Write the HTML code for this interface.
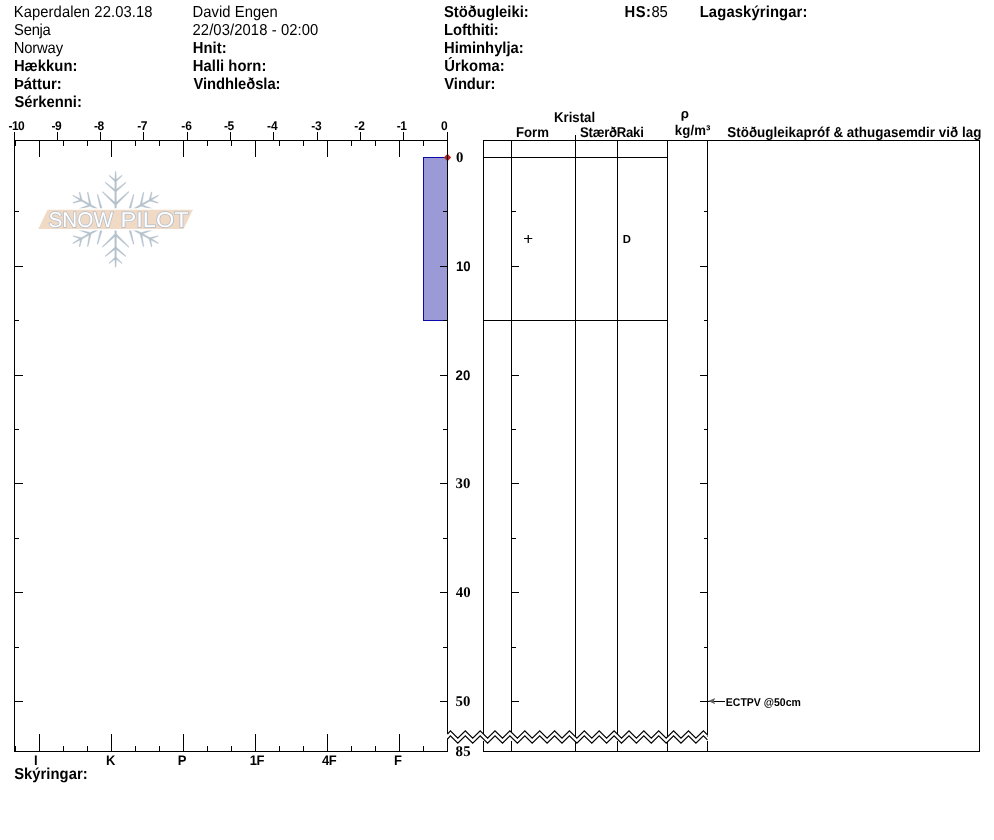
<!DOCTYPE html>
<html lang="is">
<head>
<meta charset="utf-8">
<title>Kaperdalen 22.03.18 - SnowPilot</title>
<style>
html,body{margin:0;padding:0;background:#fff;}
body{width:994px;height:840px;overflow:hidden;font-family:"Liberation Sans",sans-serif;}
svg{display:block;position:absolute;left:0;top:0;will-change:transform;}
text{font-family:"Liberation Sans",sans-serif;fill:#000;white-space:pre;text-rendering:geometricPrecision;}
.b{font-weight:bold;}
.s{font-family:"Liberation Serif",serif;}
.ln{stroke:#000;stroke-width:1;fill:none;shape-rendering:crispEdges;}
</style>
</head>
<body>
<svg width="994" height="840" viewBox="0 0 994 840">
<rect x="0" y="0" width="994" height="840" fill="#ffffff"/>

<g id="header">
<text transform="translate(13.70 17) scale(1 1.07)" style="font-size:14.8px;letter-spacing:0.078px;">Kaperdalen 22.03.18</text>
<text transform="translate(14.10 35) scale(1 1.07)" style="font-size:14.8px;letter-spacing:-0.275px;">Senja</text>
<text transform="translate(13.70 53) scale(1 1.07)" style="font-size:14.8px;letter-spacing:-0.160px;">Norway</text>
<text transform="translate(13.90 71) scale(1 1.07)" class="b" style="font-size:14.8px;letter-spacing:0.033px;">Hækkun:</text>
<text transform="translate(13.95 89) scale(1 1.07)" class="b" style="font-size:14.8px;">Þáttur:</text>
<text transform="translate(14.45 107) scale(1 1.07)" class="b" style="font-size:14.8px;">Sérkenni:</text>
<text transform="translate(192.50 17) scale(1 1.07)" style="font-size:14.8px;letter-spacing:0.050px;">David Engen</text>
<text transform="translate(192.50 35) scale(1 1.07)" style="font-size:14.8px;letter-spacing:0.094px;">22/03/2018 - 02:00</text>
<text transform="translate(192.70 53) scale(1 1.07)" class="b" style="font-size:14.8px;letter-spacing:0.100px;">Hnit:</text>
<text transform="translate(192.70 71) scale(1 1.07)" class="b" style="font-size:14.8px;letter-spacing:0.050px;">Halli horn:</text>
<text transform="translate(193.50 89) scale(1 1.07)" class="b" style="font-size:14.8px;letter-spacing:-0.064px;">Vindhleðsla:</text>
<text transform="translate(444.00 17) scale(1 1.07)" class="b" style="font-size:14.8px;">Stöðugleiki:</text>
<text transform="translate(444.00 35) scale(1 1.07)" class="b" style="font-size:14.8px;letter-spacing:-0.050px;">Lofthiti:</text>
<text transform="translate(444.00 53) scale(1 1.07)" class="b" style="font-size:14.8px;">Himinhylja:</text>
<text transform="translate(444.20 71) scale(1 1.07)" class="b" style="font-size:14.8px;letter-spacing:0.067px;">Úrkoma:</text>
<text transform="translate(444.30 89) scale(1 1.07)" class="b" style="font-size:14.8px;letter-spacing:-0.067px;">Vindur:</text>
<text transform="translate(624.50 17) scale(1 1.07)" class="b" style="font-size:14.8px;letter-spacing:0.450px;">HS:</text>
<text transform="translate(651.40 17) scale(1 1.07)" style="font-size:14.8px;letter-spacing:-0.100px;">85</text>
<text transform="translate(699.70 17) scale(1 1.07)" class="b" style="font-size:14.8px;letter-spacing:0.123px;">Lagaskýringar:</text>
</g>
<g id="plot">
<g id="logo">
<g fill="#b5c2cc" stroke="#b5c2cc" stroke-width="0.35" stroke-linejoin="round">
<path transform="translate(115.6 219.4) scale(1.032 1) rotate(0)" d="M0.85 0.00L0.75 -40.00L-0.75 -40.00L-0.85 0.00ZM0.75 -40.00L0.35 -47.80L-0.35 -47.80L-0.75 -40.00ZM0.50 -38.86L-5.98 -44.19L-6.45 -43.68L-0.50 -37.74ZM0.50 -37.74L6.45 -43.68L5.98 -44.19L-0.50 -38.86ZM0.59 -28.98L-9.72 -37.22L-10.18 -36.69L-0.59 -27.62ZM0.59 -27.62L10.18 -36.69L9.72 -37.22L-0.59 -28.98ZM0.70 -15.81L-12.48 -27.82L-12.97 -27.32L-0.70 -14.39ZM0.70 -14.39L12.97 -27.32L12.48 -27.82L-0.70 -15.81Z"/>
<path transform="translate(115.6 219.4) scale(1.032 1) rotate(60)" d="M0.85 0.00L0.75 -40.00L-0.75 -40.00L-0.85 0.00ZM0.75 -40.00L0.35 -47.80L-0.35 -47.80L-0.75 -40.00ZM0.50 -38.86L-5.98 -44.19L-6.45 -43.68L-0.50 -37.74ZM0.50 -37.74L6.45 -43.68L5.98 -44.19L-0.50 -38.86ZM0.59 -28.98L-9.72 -37.22L-10.18 -36.69L-0.59 -27.62ZM0.59 -27.62L10.18 -36.69L9.72 -37.22L-0.59 -28.98ZM0.70 -15.81L-12.48 -27.82L-12.97 -27.32L-0.70 -14.39ZM0.70 -14.39L12.97 -27.32L12.48 -27.82L-0.70 -15.81Z"/>
<path transform="translate(115.6 219.4) scale(1.032 1) rotate(120)" d="M0.85 0.00L0.75 -40.00L-0.75 -40.00L-0.85 0.00ZM0.75 -40.00L0.35 -47.80L-0.35 -47.80L-0.75 -40.00ZM0.50 -38.86L-5.98 -44.19L-6.45 -43.68L-0.50 -37.74ZM0.50 -37.74L6.45 -43.68L5.98 -44.19L-0.50 -38.86ZM0.59 -28.98L-9.72 -37.22L-10.18 -36.69L-0.59 -27.62ZM0.59 -27.62L10.18 -36.69L9.72 -37.22L-0.59 -28.98ZM0.70 -15.81L-12.48 -27.82L-12.97 -27.32L-0.70 -14.39ZM0.70 -14.39L12.97 -27.32L12.48 -27.82L-0.70 -15.81Z"/>
<path transform="translate(115.6 219.4) scale(1.032 1) rotate(180)" d="M0.85 0.00L0.75 -40.00L-0.75 -40.00L-0.85 0.00ZM0.75 -40.00L0.35 -47.80L-0.35 -47.80L-0.75 -40.00ZM0.50 -38.86L-5.98 -44.19L-6.45 -43.68L-0.50 -37.74ZM0.50 -37.74L6.45 -43.68L5.98 -44.19L-0.50 -38.86ZM0.59 -28.98L-9.72 -37.22L-10.18 -36.69L-0.59 -27.62ZM0.59 -27.62L10.18 -36.69L9.72 -37.22L-0.59 -28.98ZM0.70 -15.81L-12.48 -27.82L-12.97 -27.32L-0.70 -14.39ZM0.70 -14.39L12.97 -27.32L12.48 -27.82L-0.70 -15.81Z"/>
<path transform="translate(115.6 219.4) scale(1.032 1) rotate(240)" d="M0.85 0.00L0.75 -40.00L-0.75 -40.00L-0.85 0.00ZM0.75 -40.00L0.35 -47.80L-0.35 -47.80L-0.75 -40.00ZM0.50 -38.86L-5.98 -44.19L-6.45 -43.68L-0.50 -37.74ZM0.50 -37.74L6.45 -43.68L5.98 -44.19L-0.50 -38.86ZM0.59 -28.98L-9.72 -37.22L-10.18 -36.69L-0.59 -27.62ZM0.59 -27.62L10.18 -36.69L9.72 -37.22L-0.59 -28.98ZM0.70 -15.81L-12.48 -27.82L-12.97 -27.32L-0.70 -14.39ZM0.70 -14.39L12.97 -27.32L12.48 -27.82L-0.70 -15.81Z"/>
<path transform="translate(115.6 219.4) scale(1.032 1) rotate(300)" d="M0.85 0.00L0.75 -40.00L-0.75 -40.00L-0.85 0.00ZM0.75 -40.00L0.35 -47.80L-0.35 -47.80L-0.75 -40.00ZM0.50 -38.86L-5.98 -44.19L-6.45 -43.68L-0.50 -37.74ZM0.50 -37.74L6.45 -43.68L5.98 -44.19L-0.50 -38.86ZM0.59 -28.98L-9.72 -37.22L-10.18 -36.69L-0.59 -27.62ZM0.59 -27.62L10.18 -36.69L9.72 -37.22L-0.59 -28.98ZM0.70 -15.81L-12.48 -27.82L-12.97 -27.32L-0.70 -14.39ZM0.70 -14.39L12.97 -27.32L12.48 -27.82L-0.70 -15.81Z"/>
</g>
<polygon points="47.6,209.8 192.9,209.8 183.6,229 38.2,229" fill="#f1dac5" stroke="#ffffff" stroke-width="3" stroke-linejoin="miter" paint-order="stroke"/>
<text y="227.2" style="font-size:21.5px;fill:#ffffff;stroke:#b1bcc9;stroke-width:1.5px;paint-order:stroke;"><tspan x="48.5" textLength="64.6" lengthAdjust="spacingAndGlyphs">SNOW</tspan> <tspan x="120.6" textLength="68" lengthAdjust="spacingAndGlyphs">PILOT</tspan></text>
</g>
<rect x="423.5" y="157.5" width="24" height="163" fill="#9b99d6" stroke="#0a0aa8" stroke-width="1" shape-rendering="crispEdges"/>
<polygon points="443.8,157.5 447.5,153.7 451.2,157.5 447.5,161.3" fill="#b3201f"/>
<path class="ln" d="M14.5 132V752M447.5 132V734M447.5 738V752M14 140.5H448M14 751.5H448M14.5 132V141M57.5 132V141M100.5 132V141M143.5 132V141M187.5 132V141M230.5 132V141M273.5 132V141M317.5 132V141M360.5 132V141M403.5 132V141M447.5 132V141M39.5 141V157M39.5 734V751M111.5 141V157M111.5 734V751M183.5 141V157M183.5 734V751M255.5 141V157M255.5 734V751M327.5 141V157M327.5 734V751M399.5 141V157M399.5 734V751M15.5 141V146M15.5 746V751M63.5 141V146M63.5 746V751M87.5 141V146M87.5 746V751M135.5 141V146M135.5 746V751M159.5 141V146M159.5 746V751M207.5 141V146M207.5 746V751M231.5 141V146M231.5 746V751M279.5 141V146M279.5 746V751M303.5 141V146M303.5 746V751M351.5 141V146M351.5 746V751M375.5 141V146M375.5 746V751M423.5 141V146M423.5 746V751M15 211.5H19M443 211.5H447M512 211.5H516M704 211.5H707M15 266.5H23M440 266.5H447M512 266.5H519M700 266.5H707M15 320.5H19M443 320.5H447M512 320.5H516M704 320.5H707M15 375.5H23M440 375.5H447M512 375.5H519M700 375.5H707M15 429.5H19M443 429.5H447M512 429.5H516M704 429.5H707M15 483.5H23M440 483.5H447M512 483.5H519M700 483.5H707M15 538.5H19M443 538.5H447M512 538.5H516M704 538.5H707M15 592.5H23M440 592.5H447M512 592.5H519M700 592.5H707M15 647.5H19M443 647.5H447M512 647.5H516M704 647.5H707M15 701.5H23M440 701.5H447M512 701.5H519M700 701.5H707"/>
</g>
<g id="axislabels">
<text transform="translate(8.40 130) scale(1 1.05)" class="b" style="font-size:12px;letter-spacing:-0.500px;">-10</text>
<text transform="translate(51.40 130) scale(1 1.05)" class="b" style="font-size:12px;letter-spacing:-0.400px;">-9</text>
<text transform="translate(94.10 130) scale(1 1.05)" class="b" style="font-size:12px;letter-spacing:-0.500px;">-8</text>
<text transform="translate(137.35 130) scale(1 1.05)" class="b" style="font-size:12px;letter-spacing:-0.500px;">-7</text>
<text transform="translate(181.30 130) scale(1 1.05)" class="b" style="font-size:12px;letter-spacing:-0.100px;">-6</text>
<text transform="translate(224.10 130) scale(1 1.05)" class="b" style="font-size:12px;letter-spacing:-0.500px;">-5</text>
<text transform="translate(267.10 130) scale(1 1.05)" class="b" style="font-size:12px;letter-spacing:-0.200px;">-4</text>
<text transform="translate(311.20 130) scale(1 1.05)" class="b" style="font-size:12px;letter-spacing:-0.200px;">-3</text>
<text transform="translate(354.30 130) scale(1 1.05)" class="b" style="font-size:12px;letter-spacing:-0.100px;">-2</text>
<text transform="translate(396.80 130) scale(1 1.05)" class="b" style="font-size:12px;letter-spacing:-0.500px;">-1</text>
<text transform="translate(440.95 130) scale(1 1.05)" class="b" style="font-size:12px;">0</text>
<text transform="translate(34.10 765) scale(1 1.07)" class="b" style="font-size:13px;">I</text>
<text transform="translate(106.10 765) scale(1 1.07)" class="b" style="font-size:13px;">K</text>
<text transform="translate(177.70 765) scale(1 1.07)" class="b" style="font-size:13px;">P</text>
<text transform="translate(249.85 765) scale(1 1.07)" class="b" style="font-size:13px;letter-spacing:-0.500px;">1F</text>
<text transform="translate(322.10 765) scale(1 1.07)" class="b" style="font-size:13px;letter-spacing:-0.500px;">4F</text>
<text transform="translate(394.05 765) scale(1 1.07)" class="b" style="font-size:13px;">F</text>
<text transform="translate(14.20 779) scale(1 1.07)" class="b" style="font-size:14.8px;letter-spacing:0.022px;">Skýringar:</text>
<text x="456.00" y="162" class="b s" style="font-size:14.8px;">0</text>
<text transform="translate(456.00 271) scale(1 1.06)" class="b" style="font-size:13.2px;letter-spacing:-0.100px;">10</text>
<text transform="translate(455.50 380) scale(1 1.06)" class="b" style="font-size:13.2px;letter-spacing:0.200px;">20</text>
<text x="455.60" y="488" class="b s" style="font-size:14.8px;letter-spacing:0.100px;">30</text>
<text x="455.70" y="597" class="b s" style="font-size:14.8px;letter-spacing:0.200px;">40</text>
<text x="455.60" y="706" class="b s" style="font-size:14.8px;letter-spacing:0.100px;">50</text>
<text x="455.60" y="756" class="b s" style="font-size:14.8px;letter-spacing:0.300px;">85</text>
</g>
<g id="table">
<path class="ln" d="M483.5 140V752M511.5 140V752M575.5 140V752M617.5 140V752M667.5 140V752M707.5 140V752M979.5 140V752M483 140.5H980M483 751.5H980M483 157.5H668M483 320.5H668M575.5 135V140"/>
<text transform="translate(554.05 122) scale(1 1.07)" class="b" style="font-size:13.2px;">Kristal</text>
<text transform="translate(516.00 137) scale(1 1.07)" class="b" style="font-size:13.2px;letter-spacing:-0.033px;">Form</text>
<text transform="translate(580.10 137) scale(1 1.07)" class="b" style="font-size:13.2px;letter-spacing:-0.275px;">Stærð</text>
<text transform="translate(616.70 137) scale(1 1.07)" class="b" style="font-size:13.2px;letter-spacing:-0.233px;">Raki</text>
<text transform="translate(680.85 118.3) scale(1 1.001)" class="b" style="font-size:13.2px;">ρ</text>
<text transform="translate(674.70 135) scale(1 1.07)" class="b" style="font-size:13.2px;letter-spacing:0.150px;">kg/m³</text>
<text transform="translate(727.20 137) scale(1 1.07)" class="b" style="font-size:13.4px;letter-spacing:0.035px;">Stöðugleikapróf &amp; athugasemdir við lag</text>
<path d="M524 238.5H532.3" stroke="#000" stroke-width="1" fill="none"/>
<path d="M528.25 235V243" stroke="#000" stroke-width="1.25" fill="none"/>
<text transform="translate(622.75 243) scale(1 1.02)" class="b" style="font-size:11.3px;">D</text>
<path class="ln" d="M708 701.5H725"/>
<polygon points="708.3,700.9 715.2,698 713.7,701.2 715.2,704.2" fill="#606060"/>
<text transform="translate(725.83 706) scale(1 1.07)" class="b" style="font-size:10.5px;">ECTPV @50cm</text>
</g>
<polygon points="447.5,734.1 450.4,730.8 457.8,738.2 465.3,730.8 472.7,738.2 480.2,730.8 487.6,738.2 495.0,730.8 502.5,738.2 509.9,730.8 517.4,738.2 524.8,730.8 532.2,738.2 539.7,730.8 547.1,738.2 554.6,730.8 562.0,738.2 569.4,730.8 576.9,738.2 584.3,730.8 591.8,738.2 599.2,730.8 606.6,738.2 614.1,730.8 621.5,738.2 629.0,730.8 636.4,738.2 643.8,730.8 651.3,738.2 658.7,730.8 666.2,738.2 673.6,730.8 681.0,738.2 688.5,730.8 695.9,738.2 703.4,730.8 707.5,734.9 707.5,739.9 703.4,735.8 695.9,743.2 688.5,735.8 681.0,743.2 673.6,735.8 666.2,743.2 658.7,735.8 651.3,743.2 643.8,735.8 636.4,743.2 629.0,735.8 621.5,743.2 614.1,735.8 606.6,743.2 599.2,735.8 591.8,743.2 584.3,735.8 576.9,743.2 569.4,735.8 562.0,743.2 554.6,735.8 547.1,743.2 539.7,735.8 532.2,743.2 524.8,735.8 517.4,743.2 509.9,735.8 502.5,743.2 495.0,735.8 487.6,743.2 480.2,735.8 472.7,743.2 465.3,735.8 457.8,743.2 450.4,735.8 447.5,739.1" fill="#ffffff"/>
<rect x="448.5" y="737" width="260" height="4" fill="#ffffff"/>
<polyline points="447.5,734.1 450.4,730.8 457.8,738.2 465.3,730.8 472.7,738.2 480.2,730.8 487.6,738.2 495.0,730.8 502.5,738.2 509.9,730.8 517.4,738.2 524.8,730.8 532.2,738.2 539.7,730.8 547.1,738.2 554.6,730.8 562.0,738.2 569.4,730.8 576.9,738.2 584.3,730.8 591.8,738.2 599.2,730.8 606.6,738.2 614.1,730.8 621.5,738.2 629.0,730.8 636.4,738.2 643.8,730.8 651.3,738.2 658.7,730.8 666.2,738.2 673.6,730.8 681.0,738.2 688.5,730.8 695.9,738.2 703.4,730.8 707.5,734.9" fill="none" stroke="#000" stroke-width="1.2"/>
<polyline points="447.5,739.1 450.4,735.8 457.8,743.2 465.3,735.8 472.7,743.2 480.2,735.8 487.6,743.2 495.0,735.8 502.5,743.2 509.9,735.8 517.4,743.2 524.8,735.8 532.2,743.2 539.7,735.8 547.1,743.2 554.6,735.8 562.0,743.2 569.4,735.8 576.9,743.2 584.3,735.8 591.8,743.2 599.2,735.8 606.6,743.2 614.1,735.8 621.5,743.2 629.0,735.8 636.4,743.2 643.8,735.8 651.3,743.2 658.7,735.8 666.2,743.2 673.6,735.8 681.0,743.2 688.5,735.8 695.9,743.2 703.4,735.8 707.5,739.9" fill="none" stroke="#000" stroke-width="1.2"/>
</svg>
</body>
</html>
